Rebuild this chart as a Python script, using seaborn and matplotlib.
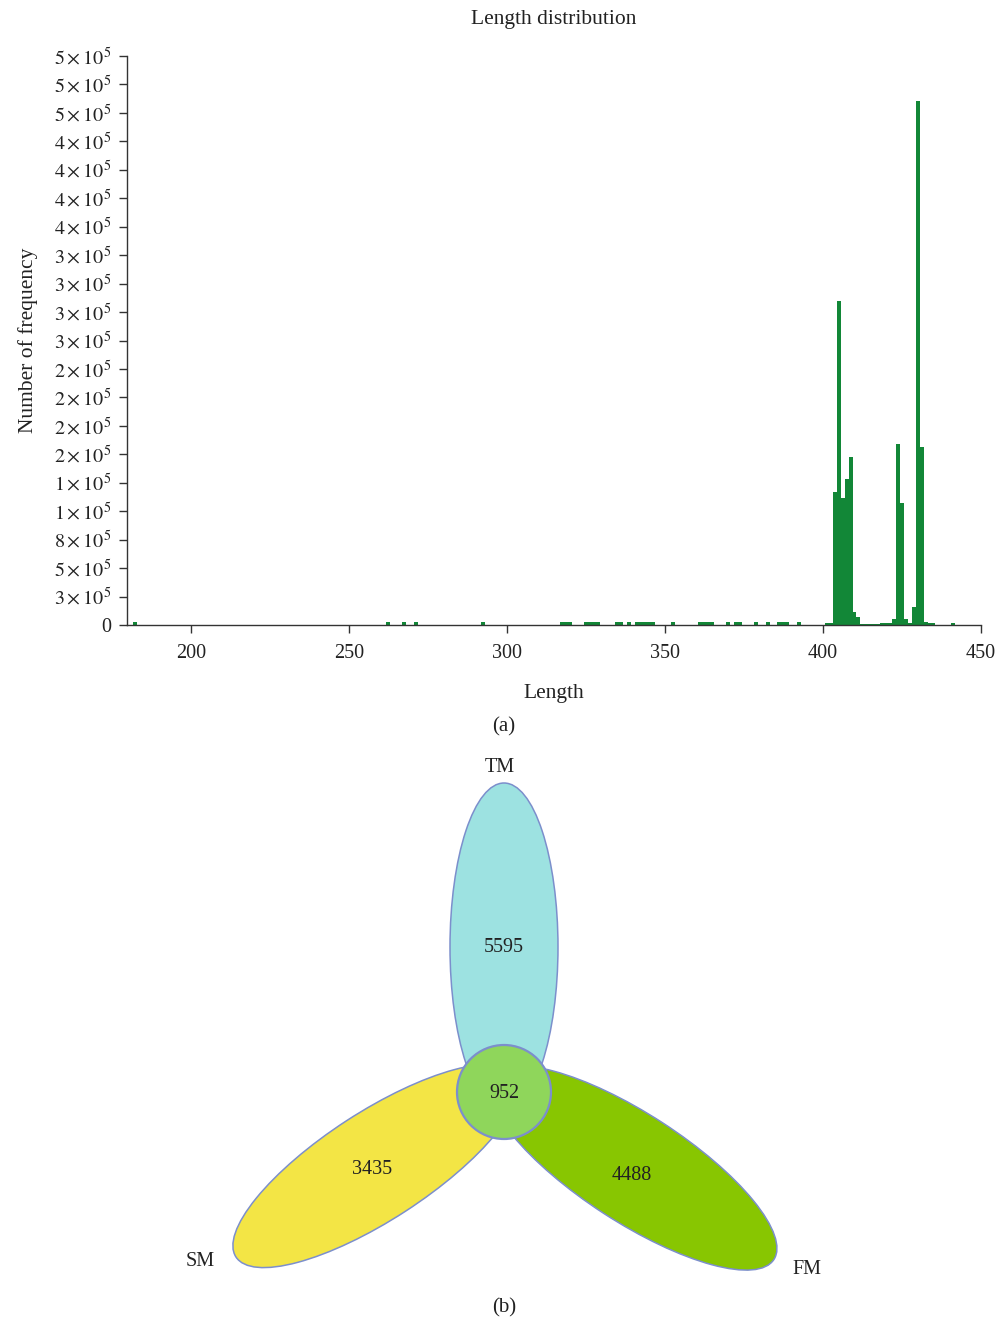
import numpy as np
import matplotlib
matplotlib.use("Agg")
import matplotlib.pyplot as plt
from matplotlib.patches import Ellipse, Circle
import seaborn as sns

# ---- read-length histogram data (bin centres and counts) ----
lengths = [182.5, 262.5, 267.5, 271.2, 292.5, 317.5, 318.7, 320.0, 325.0, 326.2,
           327.5, 328.7, 335.0, 336.2, 338.7, 341.2, 342.5, 343.7, 345.0, 346.2,
           352.5, 361.2, 362.5, 363.7, 365.0, 370.0, 372.5, 373.7, 378.7, 382.5,
           386.2, 387.5, 388.7, 392.5, 401.2, 402.5, 403.7, 405.0, 406.2, 407.5,
           408.7, 410.0, 411.2, 412.5, 413.7, 415.0, 416.2, 417.5, 418.7, 420.0,
           421.2, 422.5, 423.7, 425.0, 426.2, 427.5, 428.7, 430.0, 431.2, 432.5,
           433.7, 435.0, 441.2]
counts = [2200, 2200, 2200, 2200, 2200, 2200, 2200, 2200, 2200, 2200,
          2200, 2200, 2200, 2200, 2200, 2200, 2200, 2200, 2200, 2200,
          2200, 2200, 2200, 2200, 2200, 2200, 2200, 2200, 2200, 2200,
          2200, 2200, 2200, 2200, 1500, 1800, 116600, 285000, 112000, 128000,
          147300, 11700, 6800, 1000, 1000, 1000, 1000, 1000, 1500, 1500,
          1500, 5300, 159000, 107200, 5300, 1800, 15800, 460400, 156000, 3000,
          1500, 1500, 2000]

x_ticks = [200, 250, 300, 350, 400, 450]
y_ticks = list(range(0, 500001, 25000))
# tick mantissas as printed on the frequency axis (all with x10^5)
y_tick_mantissas = ["0", "3", "5", "8", "1", "1", "2", "2", "2", "2", "3",
                    "3", "3", "3", "4", "4", "4", "4", "5", "5", "5"]

# ---- Venn diagram data ----
venn_sets = ["TM", "SM", "FM"]
venn_only = [5595, 3435, 4488]
venn_shared = 952

sns.set_style("ticks")
plt.rcParams["font.family"] = ["Liberation Serif", "DejaVu Serif"]
plt.rcParams["mathtext.fontset"] = "stix"

W, H = 999, 1320
fig = plt.figure(figsize=(W / 100, H / 100), dpi=100)

def fx(px):
    return px / W

def fy(py):
    return 1 - py / H

TXT = "#222222"

# ---------------- panel (a): histogram ----------------
ax = fig.add_axes([fx(127), fy(625), fx(981) - fx(127), fy(56) - fy(625)])
sns.histplot(x=lengths, weights=counts, binwidth=1.25, binrange=(180.6, 443.1),
             color="#128737", alpha=1.0, edgecolor="none", linewidth=0, ax=ax)
ax.set_xlim(179.8, 450)
ax.set_ylim(0, 500000)
ax.set_xticks(x_ticks)
ax.set_xticklabels([str(v) for v in x_ticks])
ax.set_yticks(y_ticks)
ax.set_yticklabels([m if m == "0" else r"$%s\times10^{5}$" % m for m in y_tick_mantissas])
ax.tick_params(axis="both", labelsize=14.5, length=6, width=1.0, color="#333333",
               labelcolor=TXT, direction="out")
ax.tick_params(axis="x", pad=8)
ax.tick_params(axis="y", pad=5)
for side in ("top", "right"):
    ax.spines[side].set_visible(False)
for side in ("left", "bottom"):
    ax.spines[side].set_color("#333333")
    ax.spines[side].set_linewidth(1.0)
ax.set_xlabel("Length", fontsize=15.5, color=TXT, labelpad=15)
ax.set_ylabel("Number of frequency", fontsize=15.5, color=TXT, labelpad=12)
ax.set_title("Length distribution", fontsize=15.5, color=TXT, pad=23)

fig.text(fx(504), fy(727), "(a)", ha="center", va="center", fontsize=15, color=TXT)

# ---------------- panel (b): Venn diagram ----------------
vx = fig.add_axes([0, 0, 1, 1], zorder=-1)
vx.set_xlim(0, W)
vx.set_ylim(H, 0)
vx.set_axis_off()

edge = "#7C8FCC"
centre = (504, 1092)
ell_specs = [
    ((504, 947), 108, 328, 90, "#9DE2E1"),
    ((376, 1166), 108, 334, 147, "#F3E545"),
    ((633, 1168), 108, 336, 33, "#88C601"),
]
for (cxy, w, h, ang, col) in ell_specs:
    vx.add_patch(Ellipse(cxy, h, w, angle=ang, facecolor=col, edgecolor=edge,
                         linewidth=1.1))
vx.add_patch(Circle(centre, 47, facecolor="#8FD65B", edgecolor=edge, linewidth=1.6))

count_pos = [(504, 948), (372, 1170), (632, 1175)]
label_pos = [(500, 767), (200, 1261), (807, 1270)]
for name, val, cp, lp in zip(venn_sets, venn_only, count_pos, label_pos):
    vx.text(*cp, str(val), ha="center", va="center", fontsize=14.5, color=TXT)
    vx.text(*lp, name, ha="center", va="center", fontsize=14.5, color=TXT)
vx.text(centre[0], centre[1] + 2, str(venn_shared), ha="center", va="center",
        fontsize=14.5, color=TXT)

fig.text(fx(504), fy(1308), "(b)", ha="center", va="center", fontsize=15, color=TXT)

fig.savefig("out.png", dpi=100)
